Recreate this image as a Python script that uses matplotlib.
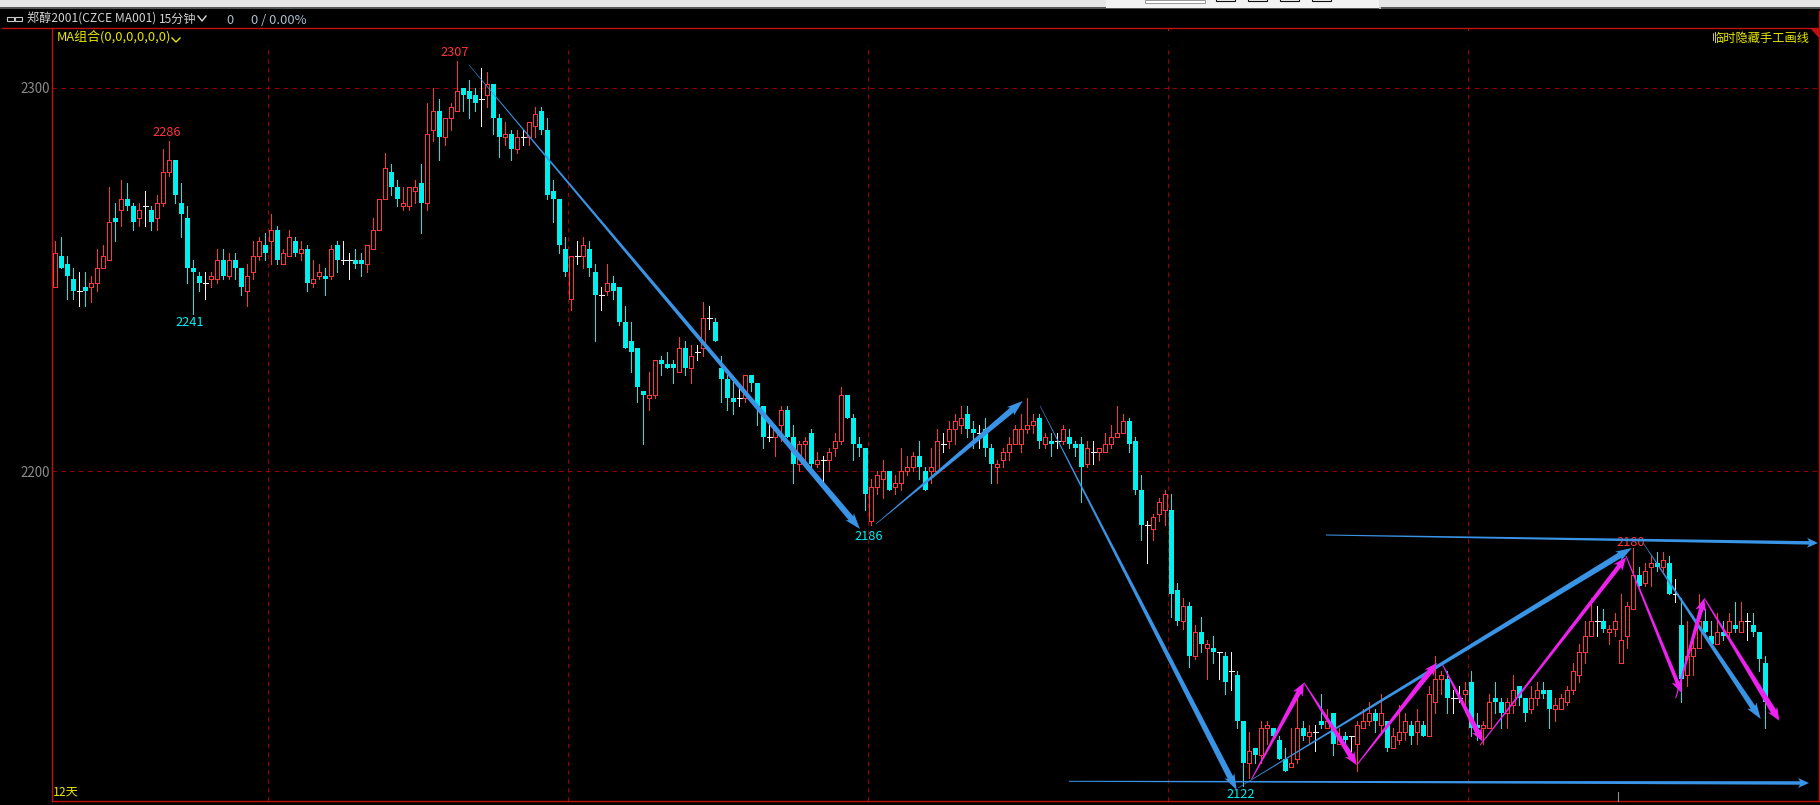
import numpy as np
import matplotlib
matplotlib.use("Agg")
import matplotlib.pyplot as plt
from matplotlib.patches import Rectangle, Polygon

plt.rcParams['font.family'] = ['Noto Sans CJK SC', 'DejaVu Sans']

opens = [
2248,2256,2254,2250,2247,2248,2248,2249,2253,2255,
2266,2268,2271,2269,2266,2269,2268,2266,2270,2278,
2281,2270,2266,2253,2251,2249,2250,2250,2255,2251,
2255,2253,2247,2252,2256,2259,2260,2263,2254,2256,
2260,2257,2258,2249,2251,2251,2251,2259,2255,2255,
2255,2255,2254,2258,2263,2271,2278,2274,2269,2269,
2273,2275,2270,2289,2294,2287,2292,2294,2300,2299,
2298,2297,2298,2301,2292,2287,2288,2284,2287,2287,
2290,2294,2289,2273,2271,2258,2245,2256,2256,2258,
2252,2246,2247,2249,2248,2239,2234,2232,2221,2219,
2220,2229,2228,2228,2226,2232,2227,2231,2232,2240,
2239,2227,2224,2219,2219,2219,2225,2223,2217,2209,
2209,2212,2216,2209,2202,2207,2210,2202,2203,2203,
2206,2208,2220,2214,2207,2206,2187,2196,2198,2200,
2196,2197,2200,2201,2204,2200,2200,2200,2207,2208,
2211,2212,2215,2211,2210,2211,2206,2201,2203,2205,
2207,2207,2211,2212,2214,2207,2208,2208,2208,2209,
2207,2207,2202,2205,2205,2205,2207,2209,2210,2213,
2208,2195,2186,2185,2189,2190,2190,2169,2161,2165,
2152,2158,2154,2154,2153,2152,2148,2147,2135,2124,
2128,2126,2133,2133,2130,2125,2123,2125,2133,2131,
2132,2135,2133,2137,2129,2131,2131,2129,2133,2135,
2137,2134,2135,2128,2130,2132,2134,2132,2134,2131,
2140,2146,2146,2141,2141,2142,2145,2134,2133,2133,
2141,2140,2137,2139,2144,2141,2138,2141,2143,2143,
2138,2138,2140,2143,2147,2153,2157,2161,2161,2158,
2159,2150,2157,2164,2173,2171,2175,2176,2175,2176,
2168,2160,2147,2152,2154,2161,2157,2155,2158,2158,
2160,2158,2161,2160,2158,2150]
closes = [
2257,2253,2251,2247,2247,2247,2249,2253,2256,2265,
2265,2271,2269,2265,2268,2269,2265,2270,2278,2281,
2272,2267,2253,2252,2249,2249,2251,2255,2251,2255,
2253,2248,2251,2256,2260,2257,2263,2255,2257,2261,
2257,2258,2249,2250,2252,2250,2258,2255,2255,2255,
2254,2254,2259,2263,2271,2279,2274,2271,2270,2274,
2274,2270,2288,2294,2287,2292,2295,2299,2298,2297,
2296,2297,2301,2292,2287,2288,2284,2287,2287,2291,
2293,2289,2272,2271,2259,2252,2256,2256,2259,2253,
2246,2246,2249,2247,2239,2232,2231,2222,2220,2220,
2229,2228,2227,2227,2232,2227,2230,2231,2240,2240,
2234,2224,2219,2218,2219,2225,2223,2217,2209,2209,
2211,2216,2209,2202,2207,2208,2202,2203,2203,2205,
2208,2220,2214,2207,2206,2194,2196,2199,2200,2195,
2197,2200,2201,2204,2201,2195,2201,2208,2207,2211,
2213,2214,2211,2210,2210,2206,2202,2202,2205,2207,
2211,2211,2212,2213,2208,2209,2207,2208,2211,2207,
2206,2201,2206,2205,2206,2207,2209,2210,2213,2207,
2195,2186,2186,2188,2192,2194,2168,2161,2165,2152,
2158,2155,2155,2153,2153,2145,2148,2135,2124,2127,
2126,2133,2134,2131,2125,2122,2124,2133,2131,2132,
2132,2134,2135,2129,2131,2130,2131,2134,2135,2137,
2135,2137,2128,2131,2132,2135,2131,2135,2131,2142,
2146,2147,2141,2141,2141,2143,2133,2133,2134,2140,
2140,2137,2140,2143,2141,2137,2141,2143,2142,2138,
2139,2141,2143,2148,2153,2157,2161,2161,2159,2159,
2161,2156,2165,2173,2170,2174,2176,2175,2177,2168,
2168,2146,2152,2154,2161,2158,2155,2158,2157,2161,
2159,2161,2161,2158,2151,2140]
highs = [
2260,2261,2256,2253,2252,2252,2251,2258,2259,2274,
2270,2276,2275,2270,2270,2273,2269,2272,2284,2286,
2281,2275,2269,2255,2252,2252,2252,2258,2258,2257,
2257,2253,2254,2260,2261,2262,2267,2264,2258,2263,
2261,2260,2259,2255,2254,2253,2259,2260,2260,2257,
2258,2257,2259,2266,2271,2283,2280,2276,2274,2274,
2276,2280,2296,2300,2297,2292,2296,2307,2300,2302,
2300,2305,2304,2301,2293,2291,2289,2289,2289,2291,
2295,2295,2292,2276,2271,2261,2256,2260,2261,2260,
2254,2248,2254,2251,2248,2243,2239,2232,2221,2226,
2229,2230,2231,2229,2235,2234,2233,2233,2244,2243,
2240,2230,2225,2224,2223,2225,2225,2223,2217,2212,
2212,2217,2217,2212,2208,2209,2211,2205,2204,2206,
2210,2222,2220,2215,2209,2206,2198,2200,2203,2200,
2199,2206,2204,2205,2208,2201,2206,2211,2210,2213,
2215,2217,2217,2213,2212,2214,2207,2203,2206,2209,
2212,2215,2219,2215,2215,2210,2210,2210,2212,2211,
2208,2209,2208,2208,2206,2210,2212,2217,2215,2214,
2209,2199,2187,2189,2193,2195,2194,2171,2167,2166,
2160,2162,2156,2157,2153,2153,2153,2148,2135,2132,
2128,2135,2135,2133,2131,2128,2133,2143,2135,2134,
2134,2142,2138,2137,2133,2132,2131,2135,2138,2140,
2138,2142,2135,2133,2139,2137,2135,2138,2135,2144,
2152,2148,2148,2143,2144,2145,2148,2137,2135,2142,
2145,2141,2141,2147,2144,2141,2144,2145,2145,2143,
2141,2142,2144,2150,2155,2161,2167,2165,2164,2160,
2163,2168,2166,2180,2175,2176,2178,2179,2179,2178,
2172,2167,2161,2156,2168,2164,2161,2163,2161,2163,
2166,2166,2163,2163,2158,2152]
lows = [
2248,2253,2245,2245,2243,2243,2244,2247,2253,2255,
2260,2264,2268,2263,2264,2264,2263,2263,2269,2277,
2270,2261,2249,2241,2247,2245,2248,2249,2250,2250,
2250,2246,2243,2250,2255,2255,2254,2254,2254,2256,
2256,2255,2247,2248,2250,2246,2250,2252,2254,2250,
2253,2251,2252,2258,2263,2271,2272,2269,2268,2268,
2270,2262,2268,2286,2281,2285,2289,2294,2294,2292,
2294,2290,2295,2288,2282,2285,2281,2283,2285,2285,
2287,2288,2271,2265,2257,2251,2242,2254,2253,2251,
2234,2242,2246,2245,2238,2232,2226,2218,2207,2216,
2219,2225,2227,2223,2226,2225,2223,2229,2230,2237,
2234,2218,2216,2215,2217,2218,2221,2212,2206,2208,
2204,2208,2209,2197,2200,2203,2201,2201,2197,2200,
2204,2207,2214,2203,2204,2190,2186,2194,2193,2195,
2194,2195,2199,2200,2198,2195,2197,2200,2205,2206,
2207,2210,2209,2206,2206,2204,2197,2197,2201,2203,
2207,2205,2210,2210,2206,2206,2204,2206,2207,2206,
2204,2192,2201,2202,2203,2205,2206,2209,2210,2205,
2194,2182,2176,2182,2187,2186,2162,2160,2159,2149,
2151,2153,2146,2150,2146,2142,2143,2133,2118,2120,
2124,2124,2129,2131,2125,2122,2123,2124,2130,2129,
2127,2133,2133,2126,2129,2127,2127,2122,2133,2134,
2132,2132,2127,2128,2129,2130,2129,2129,2131,2131,
2137,2142,2137,2137,2140,2139,2131,2130,2129,2133,
2137,2133,2133,2137,2139,2135,2137,2139,2141,2133,
2135,2138,2139,2142,2145,2150,2157,2157,2158,2155,
2157,2150,2154,2164,2170,2170,2170,2174,2174,2168,
2166,2140,2144,2147,2154,2158,2155,2155,2156,2157,
2158,2158,2156,2157,2148,2133]
price_ticks = [2200, 2300]
day_breaks = [35.5, 85.5, 135.5, 185.5, 235.5]

RED = '#ff3636'
CYAN = '#00f0f0'
WHITE = '#f0f0f0'
GRID = '#960000'
FRAME = '#c01010'
YELLOW = '#e6e600'
BLUE = '#3a94e6'
MAGENTA = '#ee22ee'
W, H = 1820, 805

fig = plt.figure(figsize=(W / 100, H / 100), dpi=100, facecolor='black')

# price pane: x is the bar number, y the price
L, R, T, B = 52, 1819, 28.5, 801
ax = fig.add_axes([L / W, 1 - B / H, (R - L) / W, (B - T) / H], facecolor='black')
px_per_bar = 6.0
px_per_unit = 3.838
ax.set_xlim((L - 55.33) / px_per_bar, (R - 55.33) / px_per_bar)
ax.set_ylim(2200 - (B - 471.3) / px_per_unit, 2300 + (87.5 - T) / px_per_unit)
for s in ax.spines.values():
    s.set_color(FRAME)
    s.set_linewidth(1.0)
ax.set_xticks([])
ax.set_yticks(price_ticks)
ax.set_yticklabels([str(p) for p in price_ticks], color='#8a8a8a', fontsize=9.6,
                   fontweight='medium')
ax.tick_params(axis='y', length=0, pad=1.5)

grid_top = 2300 + (87.5 - 45) / px_per_unit
ax.hlines(price_ticks, *ax.get_xlim(), colors=GRID, linewidth=0.8,
          linestyles=(0, (4, 4)), zorder=1)
ax.vlines(day_breaks, ax.get_ylim()[0], grid_top, colors=GRID, linewidth=0.8,
          linestyles=(0, (4, 4)), zorder=1)

o = np.array(opens); c = np.array(closes); h = np.array(highs); l = np.array(lows)
x = np.arange(len(o))
up = c > o
dn = c < o
dj = c == o
lw1 = 0.72
ax.vlines(x[up], l[up], h[up], colors=RED, linewidth=lw1, zorder=2, antialiased=False)
ax.vlines(x[dn], l[dn], h[dn], colors=CYAN, linewidth=lw1, zorder=2, antialiased=False)
ax.vlines(x[dj], l[dj], h[dj], colors=WHITE, linewidth=lw1, zorder=2, antialiased=False)
ax.hlines(c[dj], x[dj] - 2.4 / 6, x[dj] + 2.4 / 6, colors=WHITE, linewidth=lw1,
          zorder=3, antialiased=False)
ax.bar(x[up], (c - o)[up], bottom=o[up], width=4 / 6, facecolor='black', edgecolor=RED,
       linewidth=lw1, zorder=3, antialiased=False)
ax.bar(x[dn], (c - o)[dn], bottom=o[dn], width=5 / 6, facecolor=CYAN, edgecolor='none',
       linewidth=0, zorder=3, antialiased=False)

# overlay in reference pixels for window furniture, captions and hand-drawn arrows
ov = fig.add_axes([0, 0, 1, 1], facecolor='none')
ov.set_xlim(0, W)
ov.set_ylim(H, 0)
ov.axis('off')

def box(x0, y0, x1, y1, fc, ec='none', lw=0, z=5):
    ov.add_patch(Rectangle((x0, y0), x1 - x0, y1 - y0, facecolor=fc, edgecolor=ec,
                           linewidth=lw, zorder=z))

box(0, 0, W, 7, '#e6e6e6')
box(0, 7, W, 9, '#555555')
box(1106, 0, 1379, 8, '#f2f2f2')
box(1379, 7, 1381, 9, '#bbbbbb', z=6)
box(1145, 0, 1205, 3, '#ffffff', ec='#999999', lw=0.7, z=6)
for bx in (1216, 1248, 1280, 1312):
    box(bx, -1, bx + 19, 1.5, '#ffffff', ec='#111111', lw=0.8, z=6)
ov.plot([2, L], [28.5, 28.5], color=FRAME, lw=1.0, zorder=5)
ov.plot([1819, 1819], [11, 28], color=FRAME, lw=1.0, zorder=5)
ov.add_patch(Polygon([[1810, 28.5], [1820, 28.5], [1820, 39]], facecolor=FRAME, zorder=5))
ov.plot([1168, 1168], [28, 30], color=FRAME, lw=0.8, zorder=5)
ov.plot([1468, 1468], [28, 30], color=FRAME, lw=0.8, zorder=5)
ov.plot([1618, 1618], [792, 801], color='#909090', lw=0.8, zorder=5)

# link icon and chevrons
for a, b in ((7, 14), (15, 22)):
    box(a, 17, b, 21, 'none', ec='#c8c8c8', lw=0.8)
ov.plot([198, 202, 206], [16, 21, 16], color='#d8d8d8', lw=1.0, zorder=5)
ov.plot([172, 176, 180], [38, 42, 38], color=YELLOW, lw=1.0, zorder=5)

def txt(px, py, s, color, size=9.0, ha='left', z=7):
    ov.text(px, py, s, color=color, fontsize=size, ha=ha, va='center', zorder=z)

txt(27, 19, '郑醇2001(CZCE MA001)', '#d2d2d2', 8.7)
txt(159, 19, '15分钟', '#d2d2d2', 8.7)
txt(226, 20, '0', '#a8bccc', 9.2)
txt(251, 20, '0 / 0.00%', '#a8bccc', 9.4)
txt(57, 37, 'MA组合(0,0,0,0,0,0)', YELLOW, 9.3)
txt(1810, 38, '临时隐藏手工画线', YELLOW, 8.8, ha='right')
txt(53, 792, '12天', YELLOW, 8.8)
txt(167, 132, '2286', RED, 9.2, ha='center')
txt(190, 322, '2241', CYAN, 9.2, ha='center')
txt(455, 52, '2307', RED, 9.2, ha='center')
txt(869, 536, '2186', CYAN, 9.2, ha='center')
txt(1241, 794, '2122', CYAN, 9.2, ha='center')
txt(1631, 542, '2180', RED, 9.2, ha='center')

def arrow(x0, y0, x1, y1, color, w1=4.5, hl=14, hw=11, w0=0.5):
    """Tapered hand-drawn arrow, thin at the start and widening into its head."""
    p0 = np.array([x0, y0], float)
    p1 = np.array([x1, y1], float)
    d = p1 - p0
    d /= np.hypot(*d)
    n = np.array([-d[1], d[0]])
    neck = p1 - d * hl
    barb = p1 - d * (hl + 2)
    pts = [p0 + n * w0 / 2, neck + n * w1 / 2, barb + n * hw / 2, p1,
           barb - n * hw / 2, neck - n * w1 / 2, p0 - n * w0 / 2]
    ov.add_patch(Polygon(pts, closed=True, facecolor=color, edgecolor='none', zorder=8))

arrow(469, 65, 860, 529, BLUE, w1=6)
arrow(876, 524, 1022.7, 401, BLUE, w1=6)
arrow(1040, 405.7, 1236.7, 790, BLUE, w1=6)
arrow(1238, 788, 1631.7, 548, BLUE, w1=6)
arrow(1326, 535, 1818, 543, BLUE, w1=3.5, hl=9, hw=10, w0=1)
arrow(1069, 781.3, 1809, 783, BLUE, w1=3.5, hl=9, hw=10, w0=1)
arrow(1643, 542.7, 1760.7, 719, BLUE, w1=5.5)
arrow(1251.7, 779, 1304, 682.7, MAGENTA, w1=5, hl=11, hw=11, w0=1)
arrow(1304, 682.7, 1356.7, 765, MAGENTA, w1=5.5, hl=11, hw=11, w0=1)
arrow(1356.7, 765, 1437, 662.7, MAGENTA, w1=5.5, hl=11, hw=11, w0=1)
arrow(1442.7, 665, 1482.7, 741.7, MAGENTA, w1=5.5, hl=11, hw=11, w0=1)
arrow(1480, 745.3, 1626, 557.3, MAGENTA, w1=4.5, hl=11, hw=11, w0=1)
arrow(1626, 556, 1681.7, 693, MAGENTA, w1=4, hl=11, hw=11, w0=1)
arrow(1675.7, 698.3, 1704.3, 598.3, MAGENTA, w1=4.5, hl=11, hw=11, w0=1)
arrow(1704.3, 598.3, 1779.3, 720.7, MAGENTA, w1=6, hl=11, hw=11, w0=1)

fig.savefig('out.png', dpi=100, facecolor='black')
